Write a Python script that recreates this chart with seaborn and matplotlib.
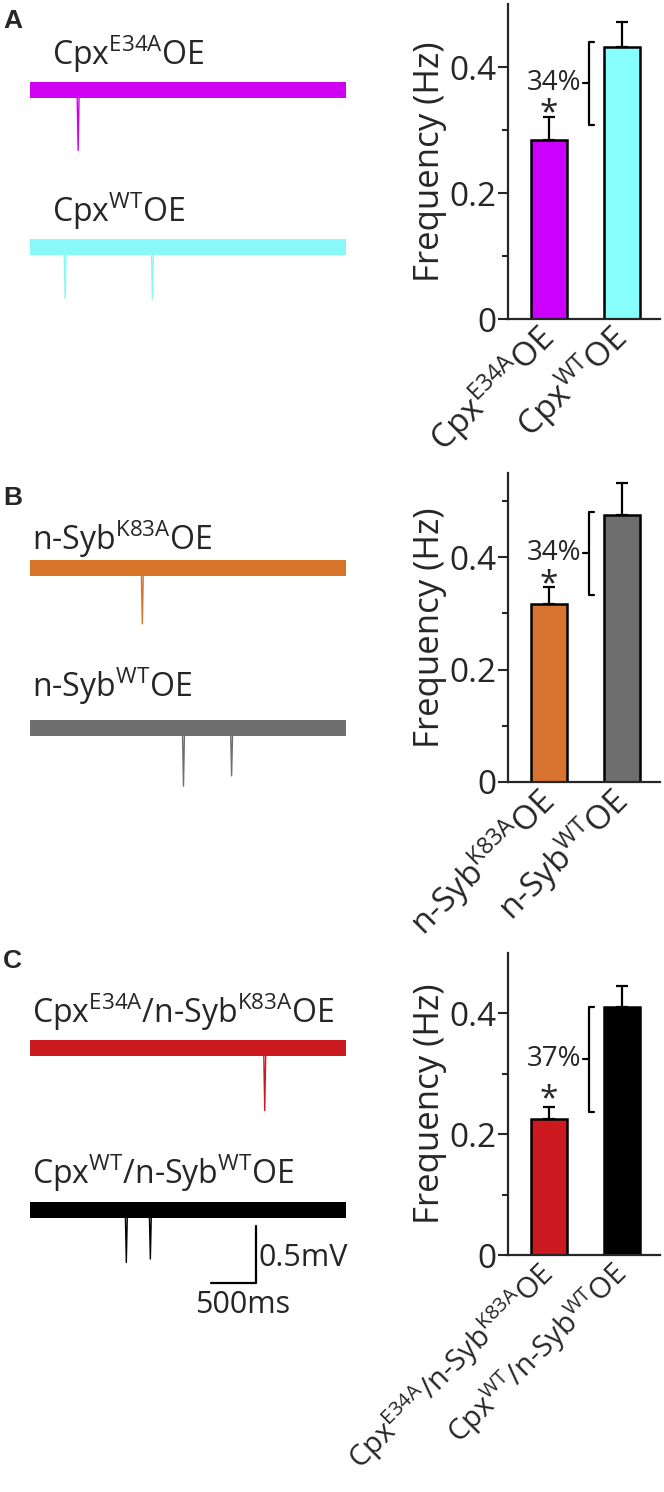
import numpy as np
import pandas as pd
import seaborn as sns
import matplotlib.pyplot as plt

# ===================== data =====================
# bar chart: mean frequency (Hz) and SEM
groups_a = [r'Cpx$^{E34A}$OE', r'Cpx$^{WT}$OE']
freq_a = [0.284, 0.431]
sem_a = [0.036, 0.040]
colors_a = ['#CC00FF', '#88FFFF']

groups_b = [r'n-Syb$^{K83A}$OE', r'n-Syb$^{WT}$OE']
freq_b = [0.316, 0.475]
sem_b = [0.031, 0.058]
colors_b = ['#D87330', '#6E6E6E']

groups_c = [r'Cpx$^{E34A}$/n-Syb$^{K83A}$OE', r'Cpx$^{WT}$/n-Syb$^{WT}$OE']
freq_c = [0.225, 0.411]
sem_c = [0.020, 0.035]
colors_c = ['#CC1A20', '#000000']

reduction_a = '34%'
reduction_b = '34%'
reduction_c = '37%'

# example traces: spike times (ms) and amplitudes (mV), 3.5 s sweeps
sweep_ms = 3500
spikes_a1 = ([533], [0.53])
spikes_a2 = ([389, 1356], [0.45, 0.46])
spikes_b1 = ([1244], [0.49])
spikes_b2 = ([1700, 2233], [0.51, 0.42])
spikes_c1 = ([2600], [0.55])
spikes_c2 = ([1067, 1333], [0.46, 0.43])
noise_mv = 0.068

# ===================== style =====================
sns.set_style('ticks')
plt.rcParams['font.family'] = ['Open Sans', 'DejaVu Sans']
plt.rcParams['mathtext.fontset'] = 'custom'
plt.rcParams['mathtext.rm'] = 'Open Sans'
plt.rcParams['mathtext.default'] = 'regular'

W, H = 664, 1492
fig = plt.figure(figsize=(W / 100, H / 100), dpi=100)
PX_PER_MV = 114.0


def px_axes(left, top, right, bottom):
    return fig.add_axes([left / W, 1 - bottom / H, (right - left) / W, (bottom - top) / H])


def draw_trace(ax, spikes, offset, color):
    ax.fill_between([0, sweep_ms], offset - noise_mv, offset + noise_mv, color=color, lw=0)
    for t, amp in zip(*spikes):
        ax.plot([t - 12, t, t + 12], [offset, offset - amp, offset], color=color, lw=1.0)


def trace_panel(b1_px, height_px, spikes1, spikes2, offset2, col1, col2):
    top = b1_px - 0.45 * PX_PER_MV
    ax = px_axes(30, top, 346, top + height_px)
    draw_trace(ax, spikes1, 0, col1)
    draw_trace(ax, spikes2, offset2, col2)
    ax.set_xlim(0, sweep_ms)
    ax.set_ylim(0.45 - height_px / PX_PER_MV, 0.45)
    ax.axis('off')
    return ax


def bar_panel(top, bottom, ymax, groups, freq, sem, colors, bracket, text, minor, xfs=24):
    ax = px_axes(508, top, 660, bottom)
    df = pd.DataFrame({'group': groups, 'freq': freq})
    sns.barplot(df, x='group', y='freq', hue='group', palette=colors, order=groups,
                width=0.5, saturation=1, edgecolor='black', linewidth=1.8, legend=False, ax=ax)
    ax.errorbar([0, 1], freq, yerr=[[0, 0], sem], fmt='none', ecolor='black',
                elinewidth=1.6, capsize=4, capthick=1.6)
    ax.set_xlim(-0.56, 1.52)
    ax.set_ylim(0, ymax)
    ax.set_yticks([0, 0.2, 0.4])
    ax.set_yticklabels(['0', '0.2', '0.4'], fontsize=24)
    ax.set_yticks(minor, minor=True)
    ax.tick_params(axis='y', which='major', direction='out', length=7, width=1.5, pad=1)
    ax.tick_params(axis='y', which='minor', direction='out', length=4, width=1.5)
    ax.tick_params(axis='x', length=0, pad=10)
    plt.setp(ax.get_xticklabels(), rotation=45, ha='right', va='center',
             rotation_mode='anchor', fontsize=xfs)
    sns.despine(ax=ax)
    for s in ['left', 'bottom']:
        ax.spines[s].set_linewidth(1.6)
    ax.set_xlabel('')
    ax.set_ylabel('Frequency (Hz)', fontsize=25, labelpad=2)
    # significance bracket
    yt, yb, ym, ystar = bracket
    bx = 0.55
    ax.plot([bx + 0.07, bx, bx, bx + 0.07], [yt, yt, yb, yb], color='black', lw=1.6)
    ax.plot([bx - 0.08, bx], [ym, ym], color='black', lw=1.6)
    ax.text(bx - 0.10, ym, text, ha='right', va='center', fontsize=20)
    ax.text(0, ystar, '*', ha='center', va='top', fontsize=24)
    return ax


# panel A
trace_panel(90, 280, spikes_a1, spikes_a2, -(247 - 90) / PX_PER_MV, '#D000F0', '#88F8F8')
bar_panel(4, 319, 0.5, groups_a, freq_a, sem_a, colors_a, (0.44, 0.308, 0.375, 0.352),
          reduction_a, [0.1, 0.3])

# panel B
trace_panel(568, 280, spikes_b1, spikes_b2, -(728 - 568) / PX_PER_MV, '#D87427', '#6E6E6E')
bar_panel(473, 782, 0.55, groups_b, freq_b, sem_b, colors_b, (0.48, 0.332, 0.407, 0.380),
          reduction_b, [0.1, 0.3, 0.5])

# panel C
ax_c = trace_panel(1048, 300, spikes_c1, spikes_c2, -(1210 - 1048) / PX_PER_MV, '#CC1A20', '#000000')
bar_panel(953, 1255, 0.5, groups_c, freq_c, sem_c, colors_c, (0.41, 0.236, 0.324, 0.285),
          reduction_c, [0.1, 0.3], xfs=21)

# scale bar (500 ms, 0.5 mV)
ax_c.plot([2000, 2500, 2500], [-2.06, -2.06, -1.56], color='black', lw=1.6, clip_on=False)

# text labels
labels = [
    (r'Cpx$^{E34A}$OE', 52, 65), (r'Cpx$^{WT}$OE', 52, 222),
    (r'n-Syb$^{K83A}$OE', 32, 550), (r'n-Syb$^{WT}$OE', 32, 697),
    (r'Cpx$^{E34A}$/n-Syb$^{K83A}$OE', 32, 1023), (r'Cpx$^{WT}$/n-Syb$^{WT}$OE', 32, 1184),
]
for txt, x, y in labels:
    fig.text(x / W, 1 - y / H, txt, ha='left', va='baseline', fontsize=23)

fig.text(258 / W, 1 - 1258 / H, '0.5mV', ha='left', va='center', fontsize=22)
fig.text(243 / W, 1 - 1305 / H, '500ms', ha='center', va='center', fontsize=22)

for letter, y in [('A', 9), ('B', 486), ('C', 949)]:
    fig.text(3 / W, 1 - y / H, letter, ha='left', va='top', fontsize=19, fontweight='bold',
             family=['Liberation Sans', 'DejaVu Sans'])

fig.savefig('out.png', dpi=100)
